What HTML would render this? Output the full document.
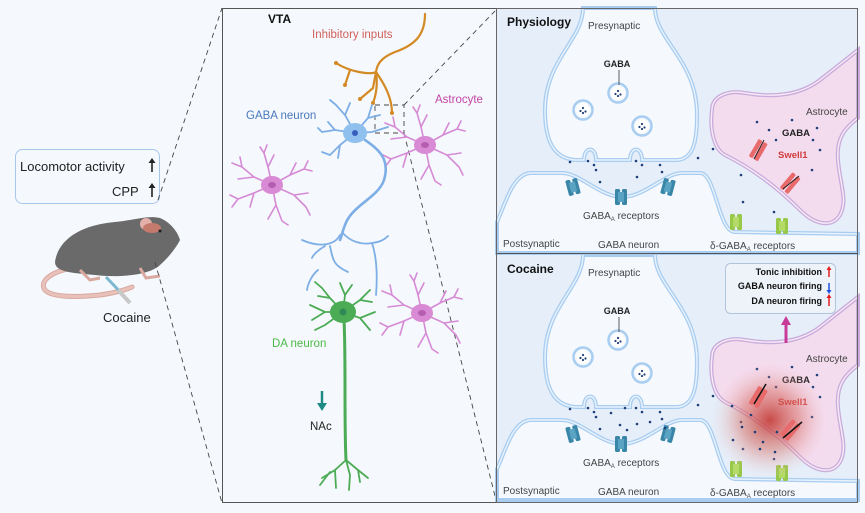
<!DOCTYPE html>
<html><head><meta charset="utf-8"><style>
html,body{margin:0;padding:0;background:#fff}
svg{display:block}
text{font-family:"Liberation Sans",sans-serif}
</style></head><body>
<svg width="865" height="513" viewBox="0 0 865 513" xmlns="http://www.w3.org/2000/svg">
<defs>
<radialGradient id="glow" cx="0.5" cy="0.5" r="0.5">
<stop offset="0" stop-color="#c0302a" stop-opacity="0.85"/>
<stop offset="0.5" stop-color="#d66a60" stop-opacity="0.5"/>
<stop offset="1" stop-color="#f0c0c0" stop-opacity="0"/>
</radialGradient>
<g id="astro" fill="none" stroke="#d68ad6" stroke-width="1.6" stroke-linecap="round">
<path d="M0,0 L-4,-18 L-8,-32 M-4,-18 L2,-30 M-8,-32 L-12,-38 M-8,-32 L-5,-40"/>
<path d="M0,0 L18,-10 L32,-16 M18,-10 L24,-22 M32,-16 L40,-14 M32,-16 L36,-24"/>
<path d="M0,0 L22,10 L34,22 M22,10 L36,8 M34,22 L38,30"/>
<path d="M0,0 L4,20 L10,36 M4,20 L-4,34 M10,36 L16,40"/>
<path d="M0,0 L-18,8 L-34,14 M-18,8 L-22,22 M-34,14 L-40,22 M-34,14 L-42,10"/>
<path d="M0,0 L-18,-8 L-30,-18 M-18,-8 L-34,-6 M-30,-18 L-40,-22 M-30,-18 L-32,-28"/>
<ellipse cx="0" cy="0" rx="11" ry="9" fill="#d88ad4" stroke="none"/>
<ellipse cx="0" cy="0" rx="4" ry="3" fill="#b45eb0" stroke="none"/>
</g>
<g id="rec">
<rect x="-6" y="-8" width="5" height="16" rx="1.5" fill="#3a86a8"/>
<rect x="1" y="-8" width="5" height="16" rx="1.5" fill="#3a86a8"/>
<rect x="-3" y="-5" width="6" height="10" fill="#5aa3c2"/>
</g>
<g id="grec">
<rect x="-6" y="-8" width="5" height="16" rx="1.5" fill="#98c84a"/>
<rect x="1" y="-8" width="5" height="16" rx="1.5" fill="#98c84a"/>
<rect x="-3" y="-5" width="6" height="10" fill="#b4da68"/>
</g>
<g id="chan">
<rect x="-10" y="-5" width="20" height="4.5" rx="1" fill="#e86a6a"/>
<rect x="-10" y="1" width="20" height="4.5" rx="1" fill="#e86a6a"/>
</g>
<g id="ves">
<circle r="9.5" fill="#f4f8fd" stroke="#a8cdf0" stroke-width="2.5"/>
<circle r="6.5" fill="#fff" stroke="none"/>
<circle cx="-2.5" cy="1" r="1.1" fill="#1f3f7a"/><circle cx="2.5" cy="1.5" r="1.1" fill="#1f3f7a"/><circle cx="0" cy="-2" r="1.1" fill="#1f3f7a"/><circle cx="0" cy="3" r="1.1" fill="#1f3f7a"/>
</g>
<g id="syn">
<rect x="497" y="8" width="361" height="245" fill="#e5eef9"/>
<path d="M583,8 C583,40 545,60 545,110 C545,140 553,158 575,160 L584,160 C584,146 596,146 596,160 L630,160 C630,146 642,146 642,160 L678,160 C694,158 697,140 697,115 C697,60 655,40 655,8 Z" fill="#f5f9fe" stroke="#a8cdf0" stroke-width="4"/>
<path d="M583,8 C583,40 545,60 545,110 C545,140 553,158 575,160 L584,160 C584,146 596,146 596,160 L630,160 C630,146 642,146 642,160 L678,160 C694,158 697,140 697,115 C697,60 655,40 655,8" fill="none" stroke="#eaf3fd" stroke-width="1.4"/>
<path d="M497,222 C505,205 512,175 530,173 L562,173 C580,173 600,197 622,197 C645,197 665,173 682,173 L700,173 C716,173 718,232 735,232 L858,234 L858,253 L497,253 Z" fill="#f5f9fe" stroke="#a8cdf0" stroke-width="4"/>
<path d="M497,222 C505,205 512,175 530,173 L562,173 C580,173 600,197 622,197 C645,197 665,173 682,173 L700,173 C716,173 718,232 735,232 L858,234" fill="none" stroke="#eaf3fd" stroke-width="1.4"/>
<path d="M712,110 C712,95 730,90 745,93 C775,98 800,95 820,80 L858,50 L858,118 C845,128 836,138 838,160 C840,185 848,200 840,215 C832,228 815,225 800,210 C780,190 755,170 725,155 C712,148 710,125 712,110 Z" fill="#f4dcef" stroke="#c9abdc" stroke-width="4"/>
<path d="M712,110 C712,95 730,90 745,93 C775,98 800,95 820,80 L858,50 M858,118 C845,128 836,138 838,160 C840,185 848,200 840,215 C832,228 815,225 800,210 C780,190 755,170 725,155 C712,148 710,125 712,110" fill="none" stroke="#f7ecf6" stroke-width="1.4"/>
<use href="#ves" x="618" y="93"/><use href="#ves" x="583" y="110"/><use href="#ves" x="642" y="126"/>
<line x1="619" y1="70" x2="619" y2="85" stroke="#333" stroke-width="0.8"/>
<text x="617" y="67" font-size="9" font-weight="bold" text-anchor="middle" fill="#222">GABA</text>
<use href="#rec" x="573" y="187" transform="rotate(-15 573 187)"/>
<use href="#rec" x="621" y="197"/>
<use href="#rec" x="668" y="187" transform="rotate(15 668 187)"/>
<use href="#grec" x="736" y="222"/><use href="#grec" x="782" y="226"/>
<use href="#chan" x="758" y="150" transform="rotate(-60 758 150)"/>
<use href="#chan" x="790" y="183" transform="rotate(-50 790 183)"/>
<text x="588" y="29" font-size="10" fill="#444">Presynaptic</text>
<text x="806" y="115" font-size="10" fill="#444">Astrocyte</text>
<text x="782" y="136" font-size="9.5" font-weight="bold" fill="#222">GABA</text>
<text x="778" y="158" font-size="9.5" font-weight="bold" fill="#d03a3a">Swell1</text>
<text x="583" y="219" font-size="10" fill="#444">GABA<tspan font-size="6" dy="2">A</tspan><tspan dy="-2"> receptors</tspan></text>
<text x="503" y="247" font-size="10" fill="#444">Postsynaptic</text>
<text x="598" y="248" font-size="10" fill="#444">GABA neuron</text>
<text x="710" y="249" font-size="10" fill="#444">δ-GABA<tspan font-size="6" dy="2">A</tspan><tspan dy="-2"> receptors</tspan></text>
<g fill="#1f3f7a">
<circle cx="570" cy="162" r="1.3"/><circle cx="588" cy="161" r="1.3"/><circle cx="594" cy="165" r="1.3"/><circle cx="596" cy="170" r="1.3"/><circle cx="600" cy="182" r="1.3"/>
<circle cx="636" cy="161" r="1.3"/><circle cx="642" cy="165" r="1.3"/><circle cx="637" cy="177" r="1.3"/><circle cx="660" cy="165" r="1.3"/><circle cx="662" cy="172" r="1.3"/>
<circle cx="698" cy="158" r="1.3"/><circle cx="713" cy="149" r="1.3"/><circle cx="741" cy="175" r="1.3"/><circle cx="743" cy="202" r="1.3"/><circle cx="774" cy="212" r="1.3"/>
<circle cx="757" cy="122" r="1.3"/><circle cx="769" cy="130" r="1.3"/><circle cx="792" cy="120" r="1.3"/><circle cx="817" cy="128" r="1.3"/><circle cx="813" cy="140" r="1.3"/><circle cx="820" cy="150" r="1.3"/><circle cx="812" cy="170" r="1.3"/><circle cx="776" cy="140" r="1.3"/>
</g>
</g>
</defs>

<rect x="0" y="0" width="865" height="513" fill="#f5f9fd"/>

<!-- Left panel -->
<rect x="15.5" y="149.5" width="144" height="54" rx="7" fill="#f5f9fd" stroke="#a8c6ec" stroke-width="1"/>
<text x="20" y="171" font-size="13" fill="#222">Locomotor activity</text>
<text x="112" y="196" font-size="13" fill="#222">CPP</text>
<g stroke="#222" stroke-width="1.6"><line x1="152" y1="172" x2="152" y2="161"/><line x1="152" y1="197" x2="152" y2="186"/></g>
<path d="M148.5,163 L152,158 L155.5,163 Z M148.5,188 L152,183 L155.5,188 Z" fill="#222"/>
<!-- mouse -->
<path d="M75,268 C55,270 38,280 45,290 C52,298 80,297 100,295 C115,293 125,290 132,287" fill="none" stroke="#d9a9a0" stroke-width="5" stroke-linecap="round"/>
<path d="M75,268 C55,270 38,280 45,290 C52,298 80,297 100,295 C115,293 125,290 132,287" fill="none" stroke="#e8c2ba" stroke-width="3" stroke-linecap="round"/>
<path d="M55,262 C58,240 80,225 115,222 C135,220 148,215 160,218 C170,222 178,232 180,240 C176,248 168,258 160,265 C150,275 120,278 95,275 C72,273 55,272 55,262 Z" fill="#6a6a6a"/>
<circle cx="146" cy="224" r="6" fill="#e3b0aa"/>
<ellipse cx="152" cy="228" rx="9" ry="5" fill="#c47a6c"/>
<circle cx="160" cy="231" r="1.5" fill="#222"/>
<path d="M80,270 L90,280 L100,278" fill="none" stroke="#d9a9a0" stroke-width="3"/>
<path d="M140,268 L146,278 L160,276" fill="none" stroke="#d9a9a0" stroke-width="3"/>
<path d="M106,277 L125,297" stroke="#7bb8d0" stroke-width="3"/>
<path d="M118,290 L130,303" stroke="#c8c8c8" stroke-width="4"/>
<text x="103" y="322" font-size="13" fill="#222">Cocaine</text>

<!-- zoom dashed lines -->
<g stroke="#444" stroke-width="0.9" stroke-dasharray="5,4" fill="none">
<line x1="158" y1="200" x2="222" y2="8"/>
<line x1="155" y1="262" x2="222" y2="503"/>
<rect x="375" y="105" width="29" height="28"/>
<line x1="404" y1="105" x2="496" y2="10"/>
<line x1="404" y1="133" x2="496" y2="500"/>
</g>

<!-- Middle panel -->
<rect x="222.5" y="8.5" width="274" height="494" fill="none" stroke="#555" stroke-width="1"/>
<text x="268" y="23" font-size="12" font-weight="bold" fill="#111">VTA</text>
<text x="312" y="38" font-size="11.5" fill="#d0605a">Inhibitory inputs</text>
<text x="246" y="119" font-size="11.5" fill="#4a78bf">GABA neuron</text>
<text x="435" y="103" font-size="11.5" fill="#c545a8">Astrocyte</text>
<text x="272" y="347" font-size="11.5" fill="#4db848">DA neuron</text>
<text x="310" y="430" font-size="11.5" fill="#222">NAc</text>
<path d="M322,391 L322,406" stroke="#1e8a85" stroke-width="2.5"/>
<path d="M317,403 L322,411 L327,403 Z" fill="#1e8a85"/>

<!-- orange input -->
<g fill="none" stroke="#d48a24" stroke-width="2.2" stroke-linecap="round">
<path d="M425,14 C425,35 415,45 395,52 C380,58 377,65 376,72 C370,75 350,72 336,63"/>
<path d="M376,72 L373,88 L360,99"/><path d="M376,72 C378,85 376,95 373,103"/><path d="M376,72 C385,85 392,98 392,113"/>
<path d="M350,70 L345,85"/>
</g>
<g fill="#d48a24"><circle cx="336" cy="63" r="2"/><circle cx="345" cy="85" r="2"/><circle cx="360" cy="99" r="2"/><circle cx="373" cy="103" r="2"/><circle cx="392" cy="113" r="2"/></g>

<use href="#astro" x="425" y="145"/>
<use href="#astro" x="272" y="185"/>
<use href="#astro" x="422" y="313"/>

<!-- GABA neuron -->
<g fill="none" stroke="#7eaee6" stroke-width="1.8" stroke-linecap="round">
<path d="M355,133 L345,115 L336,105 M345,115 L350,103 M336,105 L330,100"/>
<path d="M355,133 L368,118 L372,105 M368,118 L380,115"/>
<path d="M355,133 L335,130 L322,132 M335,130 L328,122 M322,132 L318,128"/>
<path d="M355,133 L340,145 L330,155 M340,145 L338,158 M330,155 L322,152"/>
<path d="M355,133 L372,132 L388,127"/>
<path d="M365,140 C380,150 390,160 384,180 C378,198 352,205 345,225 C342,232 342,236 340,240" stroke-width="2.6"/>
<path d="M340,235 C335,245 320,248 302,240 M325,246 C318,250 313,255 312,258 M330,246 C333,260 333,265 348,272 M318,270 C312,275 308,283 307,290"/>
<path d="M342,232 C350,242 362,245 372,243 C380,242 384,240 388,236 M372,243 C376,255 378,270 376,295"/>
</g>
<ellipse cx="355" cy="133" rx="12" ry="10" fill="#90c0ee"/>
<circle cx="355" cy="133" r="3" fill="#3a5ec0"/>

<!-- DA neuron -->
<g fill="none" stroke="#4cab55" stroke-width="1.8" stroke-linecap="round">
<path d="M343,312 L330,298 L322,288 M330,298 L318,296 M322,288 L315,282"/>
<path d="M343,312 L345,295 L340,283 M345,295 L352,285"/>
<path d="M343,312 L360,300 L370,290 M360,300 L372,302"/>
<path d="M343,312 L325,312 L310,305 M325,312 L312,320"/>
<path d="M343,312 L325,325 L315,330"/>
<path d="M343,312 L360,318 L375,312 M360,318 L370,330"/>
<path d="M344,320 C346,360 344,420 346,460" stroke-width="3"/>
<path d="M346,460 L335,470 L322,478 M335,470 L336,488 M346,460 L350,475 L349,490 M346,460 L358,470 L368,478 M358,470 L360,482 M330,472 L320,485"/>
</g>
<ellipse cx="343" cy="312" rx="13" ry="11" fill="#4cab55"/>
<circle cx="343" cy="312" r="3.5" fill="#2e8a55"/>

<!-- Right panel -->
<use href="#syn"/>
<use href="#syn" y="247"/>
<g stroke="#111" stroke-width="0.9"><line x1="764" y1="140" x2="754" y2="159"/><line x1="799" y1="176" x2="783" y2="189"/></g>
<circle cx="770" cy="420" r="58" fill="url(#glow)"/>
<use href="#chan" x="758" y="397" transform="rotate(-60 758 397)"/>
<use href="#chan" x="790" y="430" transform="rotate(-50 790 430)"/>
<g stroke="#111" stroke-width="1.5"><line x1="766" y1="384" x2="754" y2="404"/><line x1="802" y1="422" x2="783" y2="438"/></g>
<g fill="#1f3f7a">
<circle cx="732" cy="406" r="1.3"/><circle cx="751" cy="415" r="1.3"/><circle cx="742" cy="427" r="1.3"/><circle cx="755" cy="432" r="1.3"/><circle cx="763" cy="442" r="1.3"/><circle cx="733" cy="440" r="1.3"/><circle cx="777" cy="432" r="1.3"/><circle cx="760" cy="449" r="1.3"/><circle cx="775" cy="452" r="1.3"/>
<circle cx="611" cy="413" r="1.3"/><circle cx="625" cy="408" r="1.3"/><circle cx="620" cy="425" r="1.3"/><circle cx="627" cy="430" r="1.3"/><circle cx="650" cy="422" r="1.3"/><circle cx="665" cy="428" r="1.3"/>
</g>
<rect x="725.5" y="263.5" width="110" height="50" rx="5" fill="#eef3fa" stroke="#b0c4da" stroke-width="1"/>
<g font-size="9" font-weight="bold" fill="#111" text-anchor="end">
<text x="822" y="275">Tonic inhibition</text>
<text x="822" y="289">GABA neuron firing</text>
<text x="822" y="304">DA neuron firing</text>
</g>
<g stroke-width="1.5"><line x1="829" y1="277" x2="829" y2="269" stroke="#e02020"/><line x1="829" y1="283" x2="829" y2="291" stroke="#2050e0"/><line x1="829" y1="306" x2="829" y2="298" stroke="#e02020"/></g>
<path d="M826.5,270 L829,266 L831.5,270 Z M826.5,298 L829,294 L831.5,298 Z" fill="#e02020"/>
<path d="M826.5,290 L829,294 L831.5,290 Z" fill="#2050e0"/>
<line x1="786" y1="343" x2="786" y2="323" stroke="#c83a98" stroke-width="3"/>
<path d="M781,325 L786,316 L791,325 Z" fill="#c83a98"/>
<rect x="496.5" y="8.5" width="361" height="494" fill="none" stroke="#666" stroke-width="1"/>
<rect x="497" y="253" width="361" height="1" fill="#555"/>
<text x="507" y="26" font-size="12" font-weight="bold" fill="#111">Physiology</text>
<text x="507" y="273" font-size="12" font-weight="bold" fill="#111">Cocaine</text>
</svg>
</body></html>
